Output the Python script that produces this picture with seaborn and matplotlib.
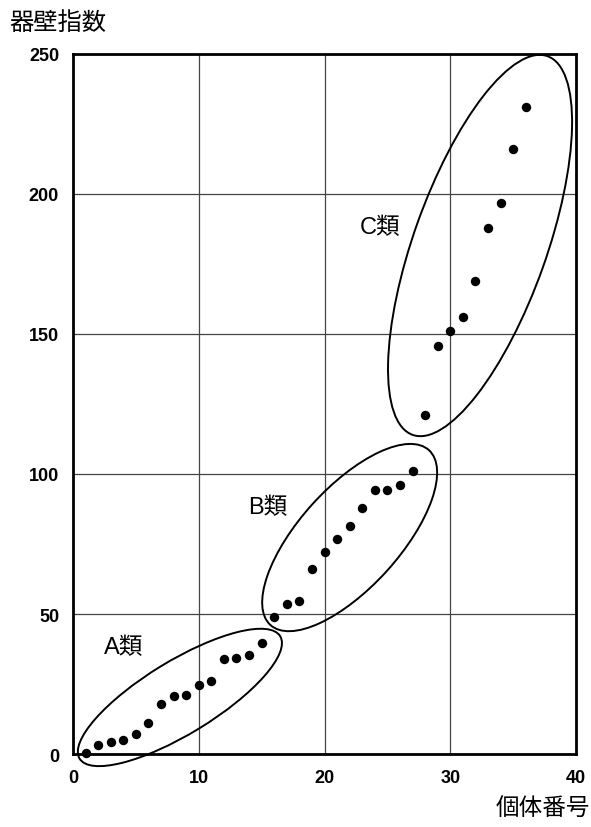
import matplotlib
matplotlib.use("Agg")
import matplotlib.pyplot as plt
import matplotlib.transforms as mtransforms
from matplotlib.patches import Ellipse
import seaborn as sns
import pandas as pd

# ---- data ----
individual = list(range(1, 37))
wall_index = [0.3, 3.2, 4.3, 5.0, 7.1, 11.0, 18.0, 20.7, 21.2, 24.6, 26.0, 33.8,
              34.2, 35.4, 39.5, 48.8, 53.6, 54.8, 66.0, 72.0, 76.8, 81.5, 88.0, 94.2,
              94.2, 96.0, 101.2, 121.0, 145.8, 151.2, 156.0, 169.0, 188.0, 196.7,
              216.0, 231.0]
x_ticks = [0, 10, 20, 30, 40]
y_ticks = [0, 50, 100, 150, 200, 250]
group_labels = ["A類", "B類", "C類"]
label_x = [4.0, 15.5, 24.4]
label_y = [38.3, 88.2, 188.2]
# ellipse annotations: centre (data), size (inches), angle (deg)
ell_cx = [8.5, 22.0, 32.37]
ell_cy = [20.2, 77.3, 181.6]
ell_w = [2.35, 2.36, 4.02]
ell_h = [0.73, 1.00, 1.33]
ell_ang = [31.4, 47.8, 70.4]

df = pd.DataFrame({"個体番号": individual, "器壁指数": wall_index})

sns.set_style("white")
plt.rcParams["font.family"] = ["Liberation Sans", "Noto Sans CJK JP", "DejaVu Sans"]
plt.rcParams["text.color"] = "black"

fig = plt.figure(figsize=(5.91, 8.28), dpi=100)
ax = fig.add_axes([73 / 591, 1 - 755 / 828, 503 / 591, 700 / 828])

sns.scatterplot(data=df, x="個体番号", y="器壁指数", ax=ax, color="black",
                s=46, edgecolor="black", linewidth=0, zorder=3, clip_on=False)

ax.set_xlim(0, 40)
ax.set_ylim(0, 250)
ax.set_xticks(x_ticks)
ax.set_yticks(y_ticks)
ax.set_xticklabels([str(v) for v in x_ticks], fontsize=13, fontweight="bold")
ax.set_yticklabels([str(v) for v in y_ticks], fontsize=13, fontweight="bold")
ax.tick_params(axis="y", length=0, pad=10, colors="black")
ax.tick_params(axis="x", length=0, pad=11, colors="black")
ax.set_xlabel("")
ax.set_ylabel("")
ax.grid(True, color="#444444", linewidth=0.9)
ax.set_axisbelow(True)
for sp in ax.spines.values():
    sp.set_color("black")
    sp.set_linewidth(2.0)
    sp.set_visible(True)

for cx, cy, w, h, a in zip(ell_cx, ell_cy, ell_w, ell_h, ell_ang):
    tr = fig.dpi_scale_trans + mtransforms.ScaledTranslation(cx, cy, ax.transData)
    e = Ellipse((0, 0), w, h, angle=a, transform=tr, fill=False,
                edgecolor="black", linewidth=1.4, clip_on=False, zorder=4)
    ax.add_patch(e)

for t, x, y in zip(group_labels, label_x, label_y):
    ax.text(x, y, t, fontsize=17, ha="center", va="center", color="black",
            family=["Liberation Sans", "Noto Sans CJK JP"], zorder=5)

fig.text(9 / 591, 1 - 23 / 828, "器壁指数", fontsize=17.5, ha="left", va="center",
         color="black", family=["Noto Sans CJK JP"])
fig.text(590 / 591, 1 - 808 / 828, "個体番号", fontsize=17, ha="right", va="center",
         color="black", family=["Noto Sans CJK JP"])

fig.savefig("out.png", dpi=100)
